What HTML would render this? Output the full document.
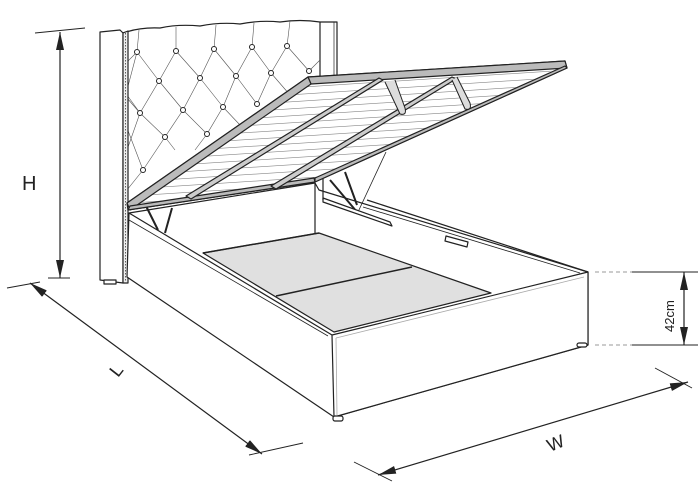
<!DOCTYPE html>
<html><head><meta charset="utf-8"><style>
html,body{margin:0;padding:0;background:#fff;width:700px;height:497px;overflow:hidden}
svg{display:block}
text{font-family:"Liberation Sans",sans-serif;fill:#222}
</style></head><body>
<svg width="700" height="497" viewBox="0 0 700 497" xmlns="http://www.w3.org/2000/svg">
<defs>
<clipPath id="lidclip"><polygon points="130,206 310,82 562,66 314,180"/></clipPath>
<marker id="ah" markerWidth="18" markerHeight="8" refX="18" refY="4" orient="auto-start-reverse" markerUnits="userSpaceOnUse"><path d="M0,0 L18,4 L0,8 z" fill="#222"/></marker>
</defs>
<g stroke="#222" stroke-width="1.2" fill="none" stroke-linejoin="round">
<path d="M123,33 Q140,27 160,28 Q178,24 200,26 Q220,22 240,24 Q260,20 280,22 Q300,19 320,22 L337,22 L337,80 L320,80" fill="#fff"/>
<line x1="320" y1="22" x2="320" y2="80" />
<line x1="334" y1="22" x2="334" y2="78" stroke-width="0.7"/>
<g stroke-width="0.6" stroke="#555">
<path d="M127,62 L137,52 L159,81 L176,51 L200,78 L214,49 L236,76 L252,47 L271,73 L287,46 L309,71 L320,60"/>
<path d="M127,98 L140,113 L159,81 L183,110 L200,78 L223,107 L236,76 L257,104 L271,73 L290,95"/>
<path d="M127,128 L143,170 L165,137 L183,110 L207,134 L223,107 L240,125"/>
<path d="M127,90 L137,52 M127,150 L140,113 L165,137 L175,150 M143,170 L127,190 M207,134 L195,150 M140,113 L127,95"/>
<path d="M137,52 L139,30 M176,51 L176,27 M214,49 L216,25 M252,47 L254,23 M287,46 L290,21"/>
</g>
<g fill="#fff" stroke-width="1">
<circle cx="137" cy="52" r="2.5"/><circle cx="176" cy="51" r="2.5"/><circle cx="214" cy="49" r="2.5"/><circle cx="252" cy="47" r="2.5"/><circle cx="287" cy="46" r="2.5"/>
<circle cx="159" cy="81" r="2.5"/><circle cx="200" cy="78" r="2.5"/><circle cx="236" cy="76" r="2.5"/><circle cx="271" cy="73" r="2.5"/><circle cx="309" cy="71" r="2.5"/>
<circle cx="140" cy="113" r="2.5"/><circle cx="183" cy="110" r="2.5"/><circle cx="223" cy="107" r="2.5"/><circle cx="257" cy="104" r="2.5"/>
<circle cx="165" cy="137" r="2.5"/><circle cx="207" cy="134" r="2.5"/><circle cx="143" cy="170" r="2.5"/>
</g>
<polygon points="100,32 120,30 123,33 123,283 100,280" fill="#fff"/>
<polygon points="123,33 128,31 128,283 123,283" fill="#eee"/>
<line x1="125.5" y1="33" x2="125.5" y2="282" stroke-dasharray="1.5,1.5" stroke-width="0.7"/>
<rect x="104" y="280" width="12" height="4" fill="#fff"/>
<polygon points="129,213 315,183 319,190 588,272 588,345 334,417 127,277" fill="#fff"/>
<line x1="315" y1="183" x2="315" y2="233"/>
<polygon points="203,253 319,233 491,293 334,332" fill="#e0e0e0"/>
<line x1="276" y1="296" x2="412" y2="267" stroke-width="1.5"/>
<line x1="203" y1="253" x2="319" y2="233" stroke-width="1.5"/>
<line x1="129" y1="213" x2="332" y2="335"/>
<line x1="129" y1="220" x2="328" y2="336" stroke-width="0.8"/>
<line x1="367" y1="200" x2="588" y2="272"/>
<line x1="363" y1="207" x2="580" y2="273" stroke-width="0.8"/>
<polygon points="332,335 588,272 588,345 334,417" fill="#fff"/>
<line x1="336" y1="338" x2="584" y2="277" stroke="#aaa" stroke-width="0.8"/>
<line x1="336" y1="338" x2="337" y2="415" stroke="#aaa" stroke-width="0.8"/>
<polygon points="446,236 468,242 467,247 445,241" fill="#fff"/>
<rect x="333" y="416" width="10" height="5" rx="2" fill="#fff"/>
<rect x="577" y="343" width="10" height="4" rx="2" fill="#fff"/>
<line x1="143" y1="200" x2="158" y2="230" stroke-width="2"/>
<line x1="172" y1="208" x2="165" y2="233" stroke-width="2"/>
<line x1="386" y1="152" x2="358" y2="212" stroke-width="0.8"/>
<line x1="330" y1="180" x2="357" y2="212" stroke-width="2"/>
<line x1="345" y1="172" x2="357" y2="205" stroke-width="2"/>
<polygon points="323,198 390,222 392,226 323,202" fill="#fff"/>
<line x1="323" y1="178" x2="323" y2="200"/>
<polygon points="127,203 308,77 565,61 567,68 315,182 128,210" fill="#fff"/>
<g clip-path="url(#lidclip)" stroke="#888" stroke-width="0.6">
<line x1="100" y1="100" x2="600" y2="68"/><line x1="100" y1="107" x2="600" y2="75"/><line x1="100" y1="114" x2="600" y2="82"/><line x1="100" y1="121" x2="600" y2="89"/><line x1="100" y1="128" x2="600" y2="96"/><line x1="100" y1="135" x2="600" y2="103"/><line x1="100" y1="142" x2="600" y2="110"/><line x1="100" y1="149" x2="600" y2="117"/><line x1="100" y1="156" x2="600" y2="124"/><line x1="100" y1="163" x2="600" y2="131"/><line x1="100" y1="170" x2="600" y2="138"/><line x1="100" y1="177" x2="600" y2="145"/><line x1="100" y1="184" x2="600" y2="152"/><line x1="100" y1="191" x2="600" y2="159"/><line x1="100" y1="198" x2="600" y2="166"/><line x1="100" y1="205" x2="600" y2="173"/><line x1="100" y1="212" x2="600" y2="180"/><line x1="100" y1="219" x2="600" y2="187"/><line x1="100" y1="226" x2="600" y2="194"/>
</g>
<polygon points="308,77 565,61 567,68 311,84" fill="#bbb"/>
<polygon points="127,203 308,77 311,84 130,210" fill="#bbb"/>
<polygon points="130,206 314,178 315,182 128,210" fill="#bbb"/>
<polygon points="315,178 565,66 567,68 315,182" fill="#bbb"/>
<polygon points="186,196 379,78 383,80 191,199" fill="#ccc"/>
<polygon points="271,186 452,77 456,79 276,189" fill="#ccc"/>
<path d="M395,80 L405,108 Q407,116 400,114 L385,82" fill="#ddd" stroke-width="1"/>
<path d="M457,77 L470,103 Q472,111 465,109 L452,80" fill="#ddd" stroke-width="1"/>
<line x1="60" y1="32" x2="60" y2="278" marker-start="url(#ah)" marker-end="url(#ah)"/>
<line x1="35" y1="33" x2="85" y2="28" stroke-width="0.9"/>
<line x1="48" y1="278" x2="70" y2="278" stroke-width="0.9"/>
<line x1="30" y1="283" x2="262" y2="454" marker-start="url(#ah)" marker-end="url(#ah)"/>
<line x1="7" y1="288" x2="40" y2="282" stroke-width="0.9"/>
<line x1="249" y1="455" x2="303" y2="443" stroke-width="0.9"/>
<line x1="378" y1="475" x2="688" y2="382" marker-start="url(#ah)" marker-end="url(#ah)"/>
<line x1="354" y1="462" x2="392" y2="481" stroke-width="0.9"/>
<line x1="655" y1="368" x2="692" y2="388" stroke-width="0.9"/>
<line x1="595" y1="272" x2="632" y2="272" stroke-dasharray="4,3" stroke="#777" stroke-width="0.8"/>
<line x1="632" y1="272" x2="698" y2="272" stroke-width="0.9"/>
<line x1="595" y1="345" x2="632" y2="345" stroke-dasharray="4,3" stroke="#777" stroke-width="0.8"/>
<line x1="632" y1="345" x2="698" y2="345" stroke-width="0.9"/>
<line x1="684" y1="272" x2="684" y2="345" marker-start="url(#ah)" marker-end="url(#ah)"/>
</g>
<text x="22" y="190" font-size="20">H</text>
<text x="0" y="0" font-size="18" transform="translate(118,378) rotate(-52)">L</text>
<text x="0" y="0" font-size="18" transform="translate(550,452) rotate(-22)">W</text>
<text x="0" y="0" font-size="13" transform="translate(674,332) rotate(-90)">42cm</text>
</svg>
</body></html>
